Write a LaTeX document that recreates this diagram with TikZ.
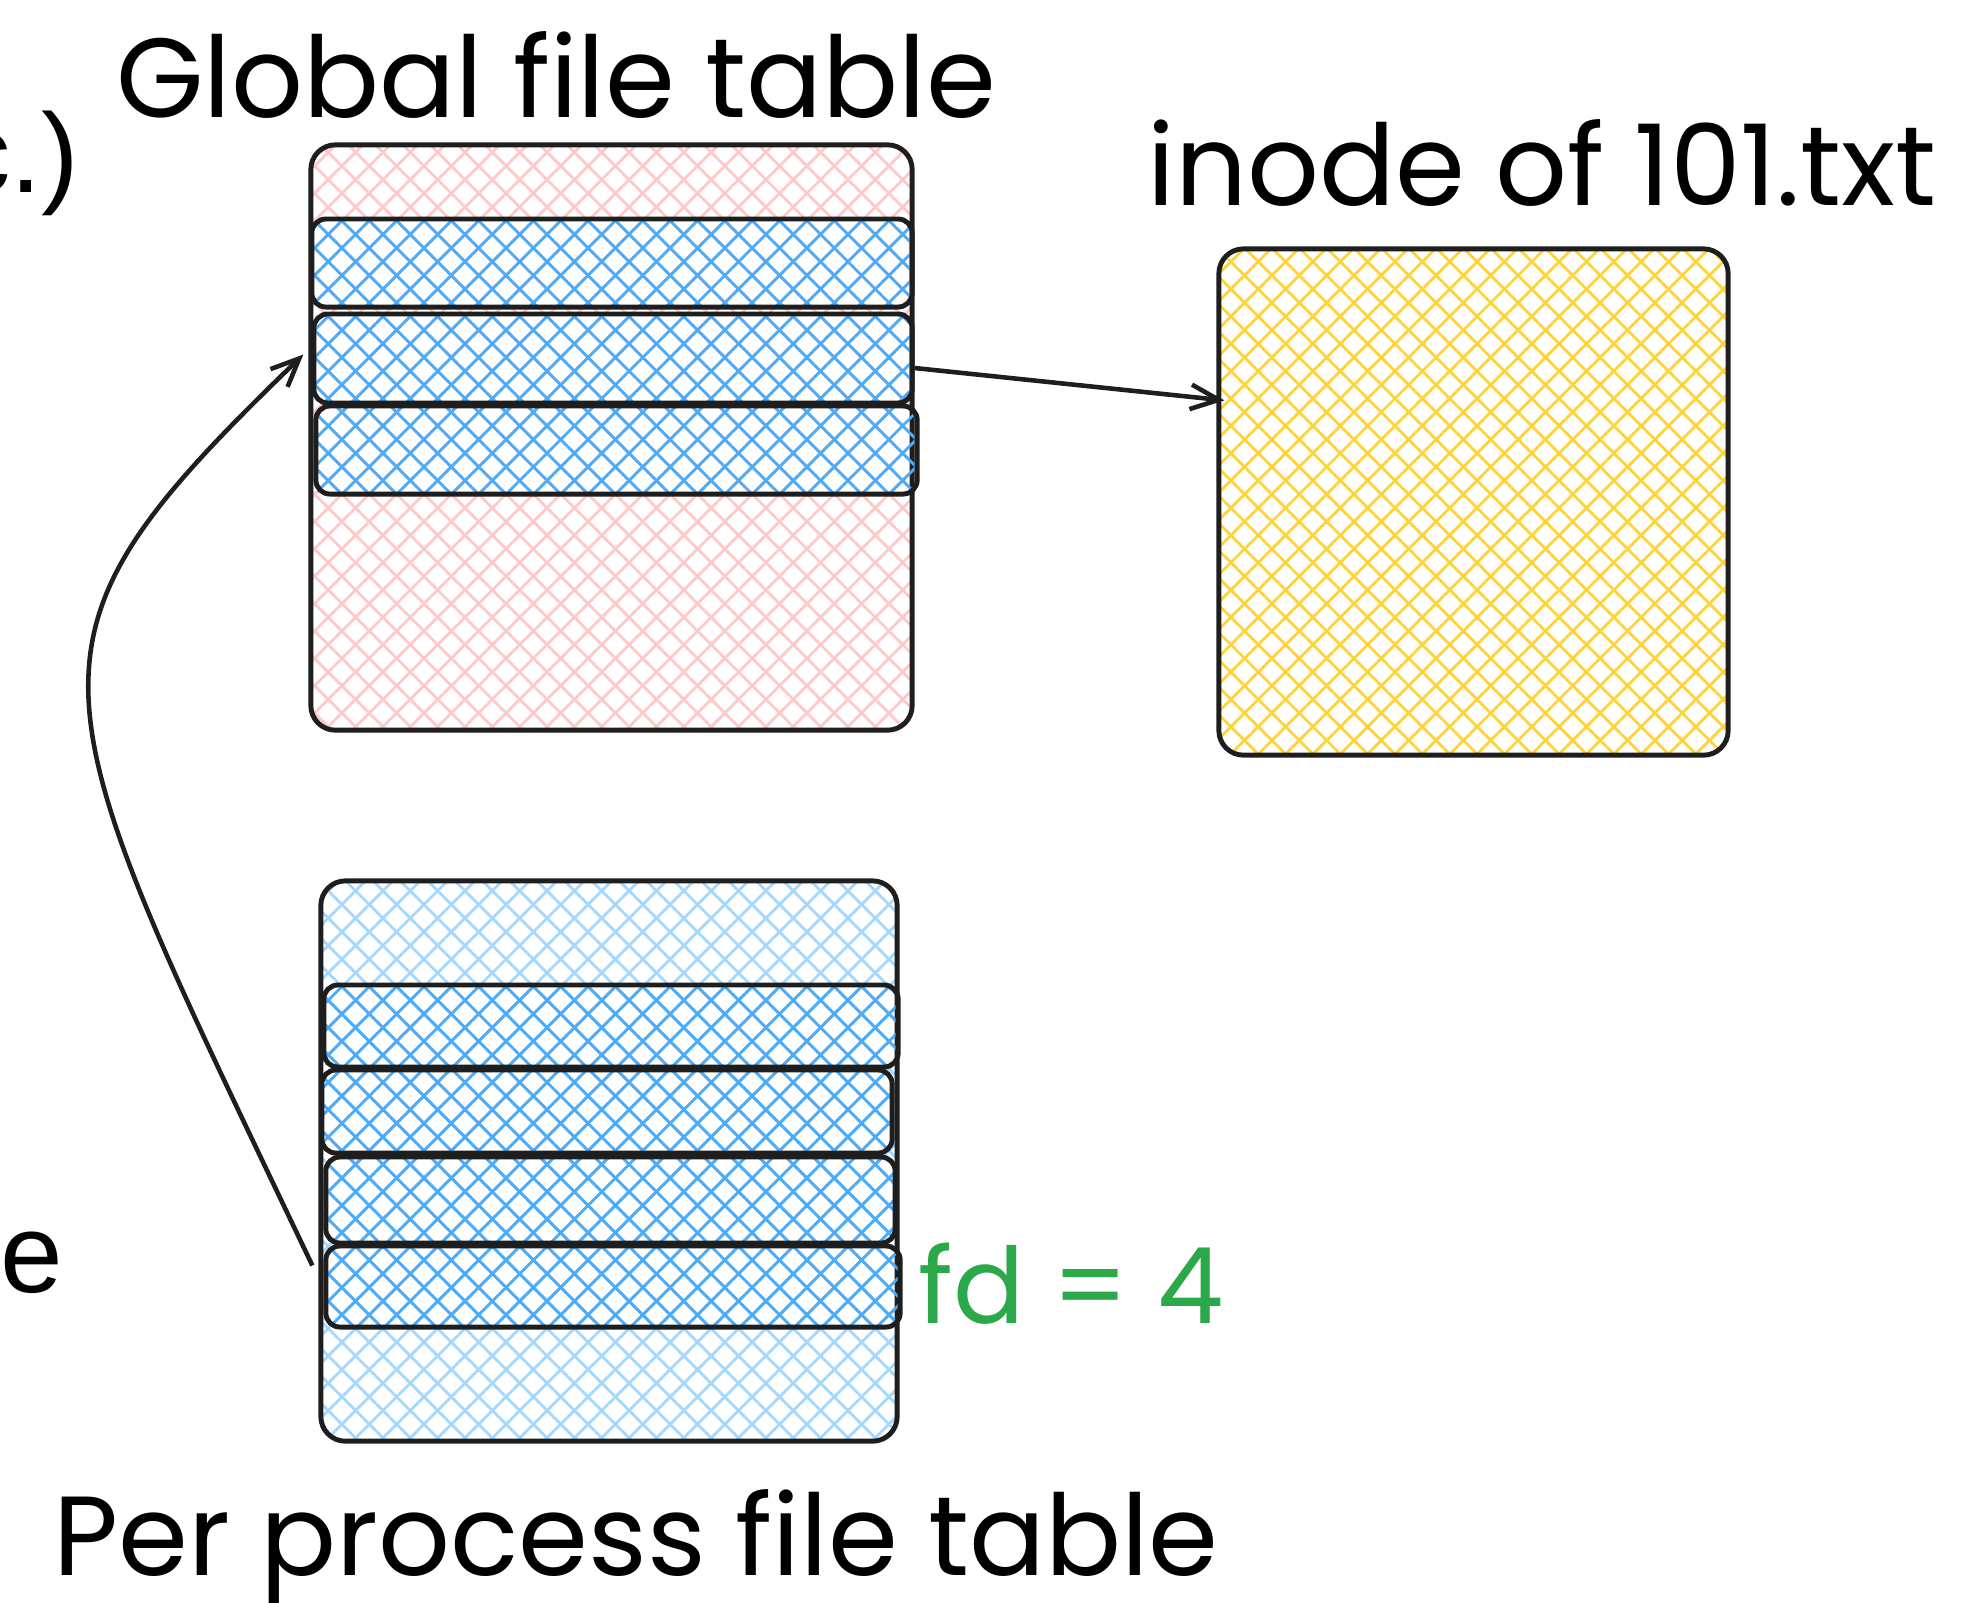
\documentclass[tikz,border=0pt]{standalone}
\usepackage{fontspec}
\setmainfont{Poppins}
\newfontfamily\helv{Liberation Sans}
\usetikzlibrary{calc,patterns.meta,arrows.meta}
\definecolor{ink}{HTML}{1E1E1E}
\definecolor{pinkhatch}{HTML}{FFC9C9}
\definecolor{bluehatch}{HTML}{4DABF7}
\definecolor{paleblue}{HTML}{A5D8FF}
\definecolor{yellowhatch}{HTML}{FFD43B}
\definecolor{fdgreen}{HTML}{2BA84A}

\begin{document}
\begin{tikzpicture}[x=0.01cm,y=-0.01cm,
  hatch/.style={draw=ink,line width=1.4pt,inner sep=0pt,rounded corners=4pt,
    preaction={pattern={Lines[angle=45,distance=5.5pt,line width=.8pt]},pattern color=#1},
    preaction={pattern={Lines[angle=-45,distance=5.5pt,line width=.8pt]},pattern color=#1}},
  tablebox/.style={hatch=#1,rounded corners=7pt},
  conn/.style={draw=ink,line width=1.3pt,-{Straight Barb[length=8pt,width=7pt]}},
  title/.style={inner sep=0pt,anchor=base,font=\fontsize{32}{38}\selectfont}]
\useasboundingbox (0,0) rectangle (1983,1602);
% global table
\node[tablebox=pinkhatch,minimum width=6.01cm,minimum height=5.85cm] (globaltab) at (611.5,437.5) {};
\node[hatch=bluehatch,minimum width=6cm,minimum height=.88cm] (grow1) at (612,263) {};
\node[hatch=bluehatch,minimum width=5.98cm,minimum height=.89cm] (grow2) at (613,358.5) {};
\node[hatch=bluehatch,minimum width=6.01cm,minimum height=.88cm] (grow3) at (616.5,450) {};
\node[tablebox=yellowhatch,minimum width=5.09cm,minimum height=5.06cm] (inode) at (1473.5,502) {};
% per process table
\node[tablebox=paleblue,minimum width=5.76cm,minimum height=5.6cm] (pptab) at (609,1161) {};
\node[hatch=bluehatch,minimum width=5.74cm,minimum height=.82cm] (prow1) at (611,1026) {};
\node[hatch=bluehatch,minimum width=5.70cm,minimum height=.83cm] (prow2) at (607,1111.5) {};
\node[hatch=bluehatch,minimum width=5.69cm,minimum height=.86cm] (prow3) at (610.5,1200) {};
\node[hatch=bluehatch,minimum width=5.74cm,minimum height=.81cm] (prow4) at (613,1286.5) {};

\node[title] (globaltitle) at (556,117) {Global file table};
\node[title] (inodetitle) at (1542,205) {inode of 101.txt};
\node[title] (pptitle) at (636,1575) {Per process file table};
\node[title,font=\fontsize{30}{36}\selectfont,text=fdgreen] (fdlabel) at (1071,1323) {fd = 4};
\node[inner sep=0pt,anchor=base east,font=\helv\fontsize{32}{38}\selectfont] (etc) at (80,192) {c.)};
\node[inner sep=0pt,anchor=base west,font=\helv\fontsize{32}{38}\selectfont] (word) at (0,1292) {e};

\draw[conn] ([yshift=-0.095cm]grow2.east) -- ($(inode.north west)+(8,154)$);
\draw[conn] ($(prow4.north west)+(-11,22)$) .. controls (33,679) and (0,647) .. ($(grow2.west)+(-8,-4)$);
\end{tikzpicture}
\end{document}
